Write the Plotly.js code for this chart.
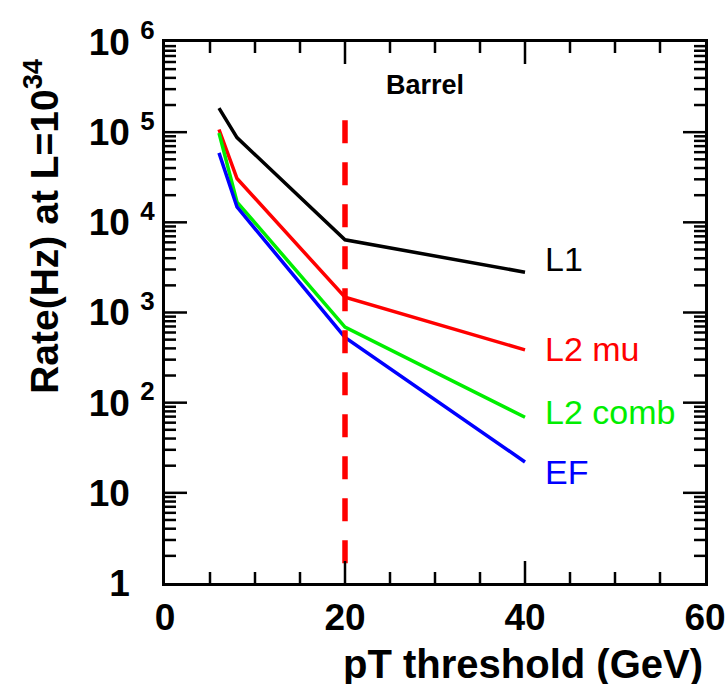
<!DOCTYPE html>
<html>
<head>
<meta charset="utf-8">
<script src="https://cdn.plot.ly/plotly-3.0.1.min.js"></script>
<style>html,body{margin:0;padding:0;background:#fff;}</style>
</head>
<body>
<div id="chart" style="width:726px;height:684px;"></div>
<script>
// pT thresholds (GeV)
var thresholds = [6, 8, 20, 40];
// Rates (Hz) at L=10^34
var rateL1 = [1.85e5, 8.7e4, 6.4e3, 2.8e3];
var rateL2mu = [1.07e5, 3.06e4, 1.48e3, 385];
var rateL2comb = [9.8e4, 1.68e4, 690, 69];
var rateEF = [5.9e4, 1.48e4, 530, 22];
// Vertical marker at 20 GeV
var markerX = [20, 20];
var markerY = [1.36e5, 1.63];
// Labels
var seriesNames = ["L1", "L2 mu", "L2 comb", "EF"];
var labelY = [3.589, 2.6, 1.9, 1.233]; // log10 positions of series labels
var yTickVals = [1, 10, 100, 1000, 1e4, 1e5, 1e6];
var yTickText = ["1 <span style=\"color:#ffffff\"><sup>0</sup></span>",
  "10 <span style=\"color:#ffffff\"><sup>0</sup></span>",
  "10 <sup>2</sup>", "10 <sup>3</sup>", "10 <sup>4</sup>",
  "10 <sup>5</sup>", "10 <sup>6</sup>"];
var xTickVals = [0, 20, 40, 60];
var xMinorVals = [5, 10, 15, 25, 30, 35, 45, 50, 55];
var yMinorDigits = [2, 3, 4, 5, 6, 7, 8, 9];

var colors = ["#000000", "#ff0000", "#00ee00", "#0000ff"];
var FONT = "Liberation Sans, Arial, Helvetica, sans-serif";

var series = [rateL1, rateL2mu, rateL2comb, rateEF];
var traces = series.map(function (s, i) {
  return {x: thresholds, y: s, type: "scatter", mode: "lines", name: seriesNames[i],
    line: {color: colors[i], width: 3.5}};
});
traces.push({x: markerX, y: markerY, type: "scatter", mode: "lines", name: "cut",
  line: {color: "#ff0000", width: 5.5, dash: "23px,19px"}});

var annotations = seriesNames.map(function (n, i) {
  return {x: 42, y: labelY[i], xref: "x", yref: "y", text: n, showarrow: false,
    xanchor: "left", yanchor: "middle", font: {family: FONT, size: 34, color: colors[i]}};
});
annotations.push({x: 28.9, y: 5.52, xref: "x", yref: "y", text: "<b>Barrel</b>", showarrow: false,
  xanchor: "center", yanchor: "middle", font: {family: FONT, size: 27, color: "#000"}});
annotations.push({x: 1.0, y: -0.15, xref: "paper", yref: "paper", text: "<b>pT threshold (GeV)</b>",
  showarrow: false, xanchor: "right", yanchor: "middle",
  font: {family: FONT, size: 40, color: "#000"}});
annotations.push({x: -0.228, y: 0.66, xref: "paper", yref: "paper", text: "<b>Rate(Hz) at L=10<sup>34</sup></b>",
  showarrow: false, textangle: -90, xanchor: "center", yanchor: "middle",
  font: {family: FONT, size: 39, color: "#000"}});

// Tick marks on all four sides, placed through the axes (data coords) with pixel lengths
var shapes = [];
function yTick(v, len) {
  shapes.push({type: "line", xref: "paper", xsizemode: "pixel", xanchor: 0, x0: 0, x1: len,
    yref: "y", y0: v, y1: v, line: {color: "#000", width: 2.5}});
  shapes.push({type: "line", xref: "paper", xsizemode: "pixel", xanchor: 1, x0: 0, x1: -len,
    yref: "y", y0: v, y1: v, line: {color: "#000", width: 2.5}});
}
function xTick(v, len) {
  shapes.push({type: "line", yref: "paper", ysizemode: "pixel", yanchor: 0, y0: 0, y1: len,
    xref: "x", x0: v, x1: v, line: {color: "#000", width: 2.5}});
  shapes.push({type: "line", yref: "paper", ysizemode: "pixel", yanchor: 1, y0: 0, y1: -len,
    xref: "x", x0: v, x1: v, line: {color: "#000", width: 2.5}});
}
yTickVals.forEach(function (v, k) {
  if (k > 0 && k < yTickVals.length - 1) yTick(v, 22);
  if (k < yTickVals.length - 1) yMinorDigits.forEach(function (d) { yTick(d * v, 11); });
});
xTickVals.forEach(function (v, k) { if (k > 0 && k < xTickVals.length - 1) xTick(v, 22); });
xMinorVals.forEach(function (v) { xTick(v, 11); });

var layout = {
  width: 726, height: 684,
  margin: {l: 165, r: 21, t: 42, b: 101},
  showlegend: false,
  xaxis: {
    range: [0, 60], tickmode: "array", tickvals: xTickVals,
    ticks: "", showline: true, linewidth: 3, linecolor: "#000", mirror: true,
    showgrid: false, zeroline: false,
    tickfont: {family: FONT, size: 37, color: "#000", weight: "bold"}
  },
  yaxis: {
    type: "log", range: [0, 6], tickmode: "array", tickvals: yTickVals, ticktext: yTickText,
    ticks: "", showline: true, linewidth: 3, linecolor: "#000", mirror: true,
    showgrid: false, zeroline: false,
    tickfont: {family: FONT, size: 37, color: "#000", weight: "bold"}
  },
  shapes: shapes,
  annotations: annotations
};

Plotly.newPlot("chart", traces, layout, {displayModeBar: false});
</script>
</body>
</html>
